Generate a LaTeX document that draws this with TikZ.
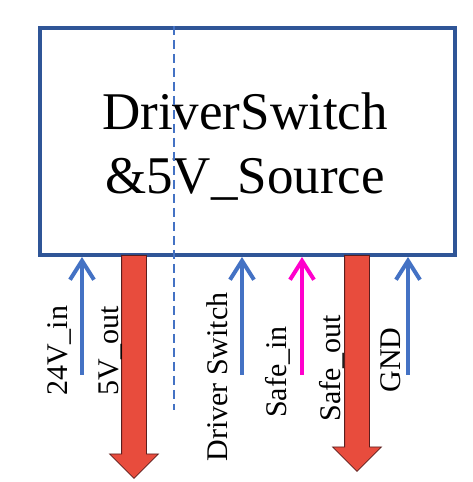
\documentclass[tikz,border=0pt]{standalone}
\usepackage{fontspec}
\setmainfont{Liberation Serif}
\usepackage{tikz}
\usetikzlibrary{arrows.meta, shapes.arrows}

\definecolor{boxblue}{RGB}{47,85,151}
\definecolor{lineblue}{RGB}{68,114,196}
\definecolor{pinkline}{RGB}{255,0,204}
\definecolor{redfill}{RGB}{232,76,61}
\definecolor{rededge}{RGB}{90,30,30}

\begin{document}
\begin{tikzpicture}[x=1pt, y=1pt,
	inarrow/.style={line width=4pt, -{Straight Barb[length=19pt, width=24pt]}},
	outarrow/.style={single arrow, draw=rededge, line width=0.8pt, fill=redfill, inner sep=0pt, inner ysep=12pt, single arrow head extend=12pt, rotate=-90, anchor=tail},
	pinlabel/.style={rotate=90, font=\fontsize{30}{36}\selectfont, inner sep=0pt}]
	\useasboundingbox (0,0) rectangle (472,482);

	\node (box) [draw=boxblue, line width=4pt, rectangle, minimum width=415pt, minimum height=227pt] at (247.5,340.5){};
	\node (name) [align=center, font=\fontsize{53}{64}\selectfont] at (245,335){DriverSwitch\\\&5V\_Source};

	\coordinate (cut) at (174,72);
	\draw[lineblue, line width=2.6pt, dash pattern=on 9pt off 5pt] (box.north -| cut)--(cut);

	\coordinate (p24) at (82,107);
	\coordinate (pdrv) at (242,107);
	\coordinate (psafe) at (302,107);
	\coordinate (pgnd) at (408,107);
	\draw[inarrow, lineblue] (p24)--(box.south -| p24);
	\draw[inarrow, lineblue] (pdrv)--(box.south -| pdrv);
	\draw[inarrow, pinkline] (psafe)--(box.south -| psafe);
	\draw[inarrow, lineblue] (pgnd)--(box.south -| pgnd);

	\node (out5) [outarrow, minimum height=223pt] at (134,227){};
	\node (outsafe) [outarrow, minimum height=216pt] at (357,227){};

	\node (l24) [pinlabel] at (60,131){24V\_in};
	\node (l5) [pinlabel] at (111,131){5V\_out};
	\node (ldrv) [pinlabel] at (217,105){Driver Switch};
	\node (lsin) [pinlabel] at (278,110){Safe\_in};
	\node (lsout) [pinlabel] at (332,114){Safe\_out};
	\node (lgnd) [pinlabel] at (391,122){GND};
\end{tikzpicture}
\end{document}
